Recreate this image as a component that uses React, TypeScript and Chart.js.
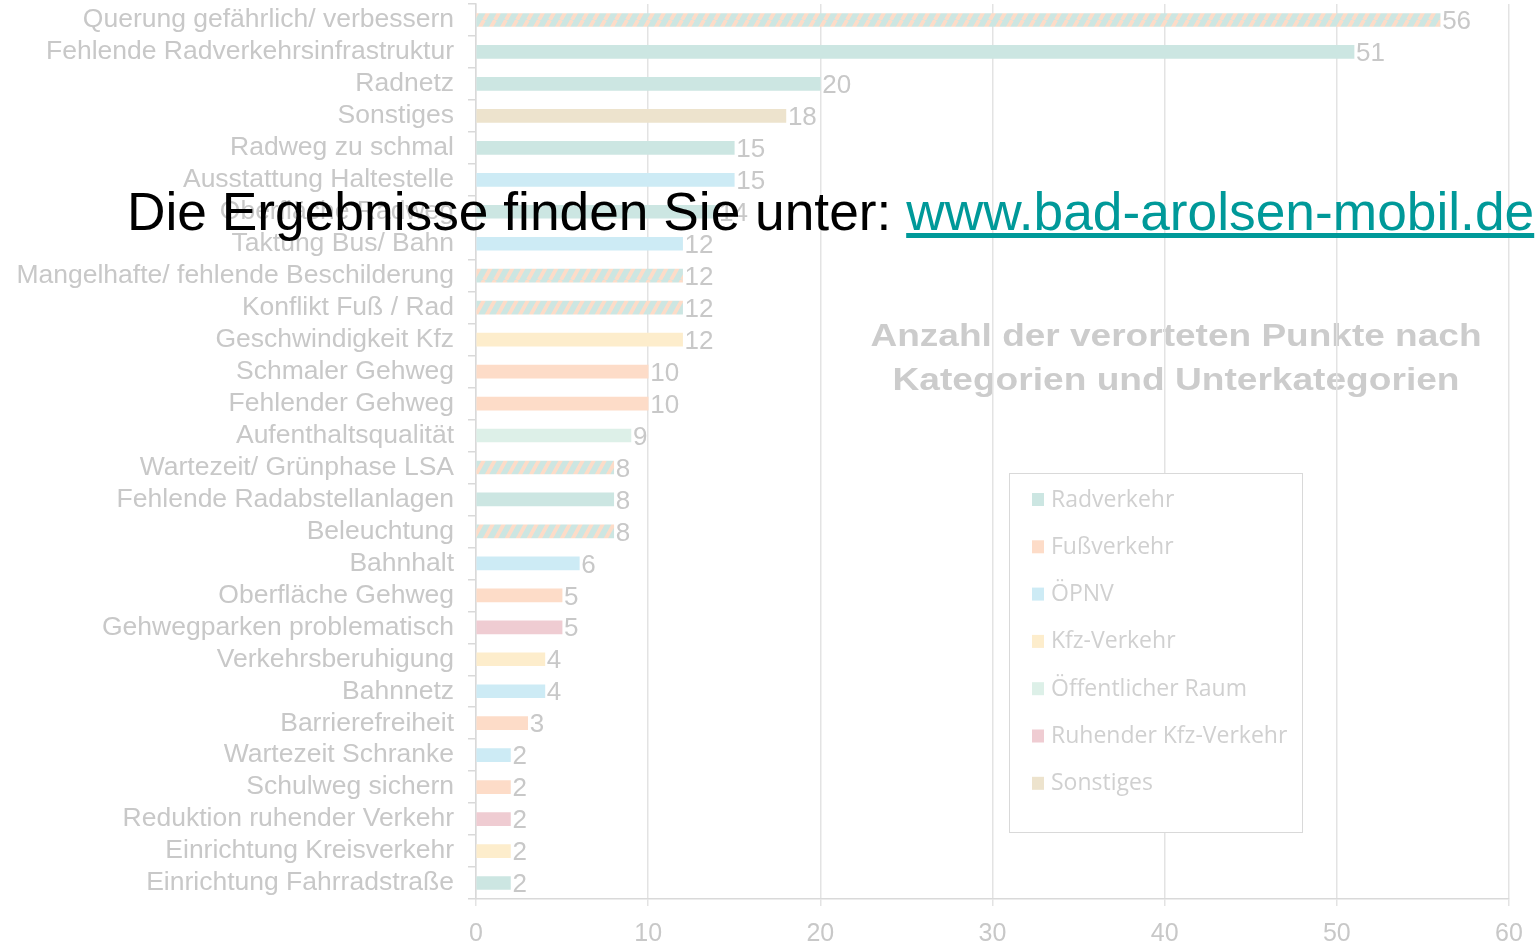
import React, { useEffect, useRef } from 'react';
import { Chart, registerables } from 'chart.js';

Chart.register(...registerables);

const categories = [
  'Querung gefährlich/ verbessern',
  'Fehlende Radverkehrsinfrastruktur',
  'Radnetz',
  'Sonstiges',
  'Radweg zu schmal',
  'Ausstattung Haltestelle',
  'Oberfläche Radweg',
  'Taktung Bus/ Bahn',
  'Mangelhafte/ fehlende Beschilderung',
  'Konflikt Fuß / Rad',
  'Geschwindigkeit Kfz',
  'Schmaler Gehweg',
  'Fehlender Gehweg',
  'Aufenthaltsqualität',
  'Wartezeit/ Grünphase LSA',
  'Fehlende Radabstellanlagen',
  'Beleuchtung',
  'Bahnhalt',
  'Oberfläche Gehweg',
  'Gehwegparken problematisch',
  'Verkehrsberuhigung',
  'Bahnnetz',
  'Barrierefreiheit',
  'Wartezeit Schranke',
  'Schulweg sichern',
  'Reduktion ruhender Verkehr',
  'Einrichtung Kreisverkehr',
  'Einrichtung Fahrradstraße',
];

const values = [56, 51, 20, 18, 15, 15, 14, 12, 12, 12, 12, 10, 10, 9, 8, 8, 8, 6, 5, 5, 4, 4, 3, 2, 2, 2, 2, 2];

// group per category; 'Rad+Fuß' is drawn hatched
const groups = [
  'Rad+Fuß', 'Rad', 'Rad', 'Sonst', 'Rad', 'OPNV', 'Rad', 'OPNV', 'Rad+Fuß', 'Rad+Fuß',
  'Kfz', 'Fuß', 'Fuß', 'Raum', 'Rad+Fuß', 'Rad', 'Rad+Fuß', 'OPNV', 'Fuß', 'Ruh',
  'Kfz', 'OPNV', 'Fuß', 'OPNV', 'Fuß', 'Ruh', 'Kfz', 'Rad',
];

const legendKeys = ['Rad', 'Fuß', 'OPNV', 'Kfz', 'Raum', 'Ruh', 'Sonst'];
const legendLabels = ['Radverkehr', 'Fußverkehr', 'ÖPNV', 'Kfz-Verkehr', 'Öffentlicher Raum', 'Ruhender Kfz-Verkehr', 'Sonstiges'];

const groupColors: Record<string, string> = {
  Rad: '#cce6e2',
  Fuß: '#fddcc8',
  OPNV: '#cdebf5',
  Kfz: '#fdedcc',
  Raum: '#ddf0e8',
  Ruh: '#efccd2',
  Sonst: '#ede3cd',
};

const titleLines = ['Anzahl der verorteten Punkte nach', 'Kategorien und Unterkategorien'];
const xMin = 0;
const xMax = 60;
const xStep = 10;

const TEXT_GREY = '#c8c8c8';
const FONT = "'Liberation Sans', Arial, sans-serif";

function makeHatch(base: string, stripe: string): CanvasPattern | string {
  const c = document.createElement('canvas');
  c.width = 11;
  c.height = 20;
  const g = c.getContext('2d');
  if (!g) return base;
  g.fillStyle = base;
  g.fillRect(0, 0, 11, 20);
  g.strokeStyle = stripe;
  g.lineWidth = 3.8;
  for (const dx of [-11, 0, 11]) {
    g.beginPath();
    g.moveTo(dx, 20);
    g.lineTo(dx + 11, 0);
    g.stroke();
  }
  return g.createPattern(c, 'repeat') || base;
}

export default function App() {
  const canvasRef = useRef<HTMLCanvasElement | null>(null);

  useEffect(() => {
    const canvas = canvasRef.current;
    if (!canvas) return;
    const hatch = makeHatch(groupColors.Rad, groupColors['Fuß']);
    const colors = groups.map((g) => (g === 'Rad+Fuß' ? hatch : groupColors[g]));

    const titlePlugin = {
      id: 'bgTitle',
      beforeDraw(chart: any) {
        const ctx = chart.ctx;
        ctx.save();
        ctx.fillStyle = '#cccccc';
        ctx.font = `bold 31px ${FONT}`;
        ctx.textAlign = 'center';
        ctx.textBaseline = 'middle';
        const widths = [611, 567];
        titleLines.forEach((t, i) => {
          const w = ctx.measureText(t).width;
          const sx = widths[i] / w;
          ctx.save();
          ctx.translate(1176, 337 + i * 44);
          ctx.scale(sx, 1);
          ctx.fillText(t, 0, 0);
          ctx.restore();
        });
        ctx.restore();
      },
    };

    const labelPlugin = {
      id: 'valueLabels',
      afterDatasetsDraw(chart: any) {
        const ctx = chart.ctx;
        const meta = chart.getDatasetMeta(0);
        ctx.save();
        ctx.fillStyle = TEXT_GREY;
        ctx.font = `26px ${FONT}`;
        ctx.textAlign = 'left';
        ctx.textBaseline = 'middle';
        meta.data.forEach((bar: any, i: number) => {
          ctx.fillText(String(values[i]), bar.x + 2, bar.y + 2);
        });
        ctx.restore();
      },
    };

    const legendPlugin = {
      id: 'boxLegend',
      afterDraw(chart: any) {
        const ctx = chart.ctx;
        ctx.save();
        ctx.fillStyle = '#ffffff';
        ctx.fillRect(1009, 473, 293, 359);
        ctx.strokeStyle = '#d9d9d9';
        ctx.lineWidth = 1;
        ctx.strokeRect(1009.5, 473.5, 293, 359);
        ctx.font = `23px 'Open Sans', 'Noto Sans', sans-serif`;
        ctx.textBaseline = 'middle';
        ctx.textAlign = 'left';
        legendKeys.forEach((k, i) => {
          const y = 499 + i * 47.3;
          ctx.fillStyle = groupColors[k];
          ctx.fillRect(1032, y - 6, 12, 13);
          ctx.fillStyle = '#d0d0d0';
          ctx.fillText(legendLabels[i], 1051, y + 1);
        });
        ctx.restore();
      },
    };

    const chart = new Chart(canvas, {
      type: 'bar',
      data: {
        labels: categories,
        datasets: [
          {
            data: values,
            backgroundColor: colors as any,
            barThickness: 13,
            borderWidth: 0,
          },
        ],
      },
      options: {
        indexAxis: 'y',
        animation: false,
        responsive: false,
        maintainAspectRatio: false,
        devicePixelRatio: 1,
        layout: { padding: { top: 4, right: 27, left: 0, bottom: 0 } },
        plugins: {
          legend: { display: false },
          tooltip: { enabled: false },
          title: { display: false },
        },
        scales: {
          x: {
            min: xMin,
            max: xMax,
            ticks: { stepSize: xStep, color: TEXT_GREY, font: { family: FONT, size: 25 }, padding: 13 },
            grid: { color: '#e3e3e3', lineWidth: 1.5, tickLength: 7, drawTicks: true },
            border: { color: '#d9d9d9', width: 1.5 },
            afterFit: (s: any) => {
              s.height = 42;
              s.paddingLeft = 0;
              s.paddingRight = 0;
            },
          },
          y: {
            ticks: { color: TEXT_GREY, font: { family: FONT, size: 26.5 }, padding: 14, autoSkip: false },
            grid: { drawOnChartArea: false, tickLength: 8, color: '#d9d9d9', offset: true, lineWidth: 1.5 },
            border: { color: '#d9d9d9', width: 1.5 },
            afterFit: (s: any) => {
              s.width = 476;
              s.paddingTop = 0;
              s.paddingBottom = 0;
            },
          },
        },
      } as any,
      plugins: [titlePlugin, labelPlugin, legendPlugin],
    });
    return () => chart.destroy();
  }, []);

  return (
    <div style={{ position: 'absolute', left: 0, top: 0, width: 1536, height: 941, background: '#fff' }}>
      <canvas ref={canvasRef} width={1536} height={941} style={{ display: 'block' }} />
      <div
        style={{
          position: 'absolute',
          left: 127,
          top: 185,
          fontFamily: FONT,
          fontSize: 53.3,
          lineHeight: 1,
          whiteSpace: 'nowrap',
          color: '#000',
        }}
      >
        Die Ergebnisse finden Sie unter:{' '}
        <a href="http://www.bad-arolsen-mobil.de" style={{ color: '#009999', textDecoration: 'underline' }}>
          www.bad-arolsen-mobil.de
        </a>
      </div>
    </div>
  );
}
